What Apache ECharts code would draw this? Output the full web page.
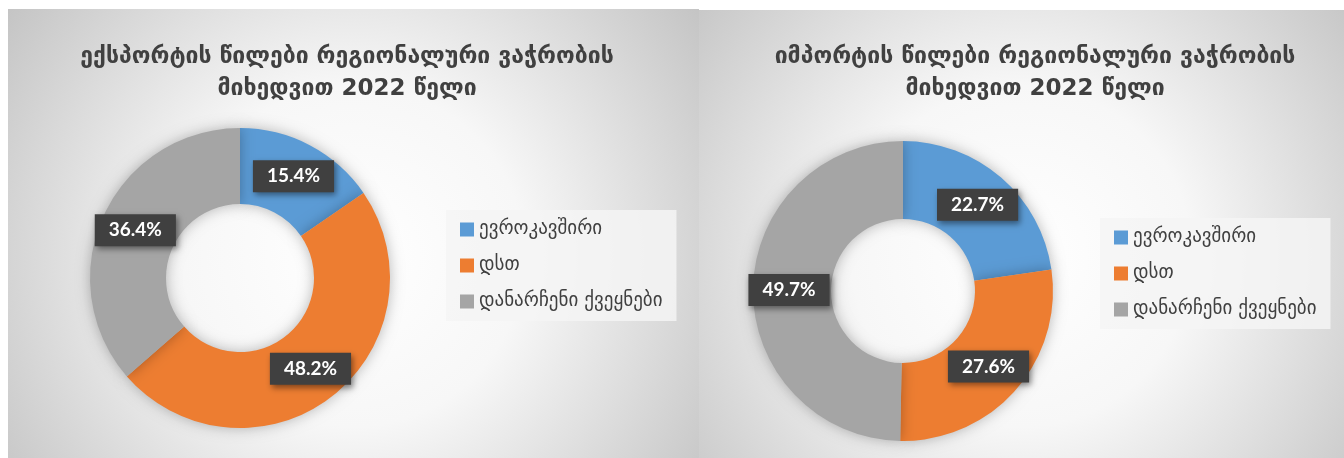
<!DOCTYPE html>
<html>
<head>
<meta charset="utf-8">
<script src="https://cdn.jsdelivr.net/npm/echarts@6/dist/echarts.min.js"></script>
<style>
html,body{margin:0;padding:0;background:#fff;}
#c{width:1344px;height:458px;}
</style>
</head>
<body>
<div id="c"></div>
<script>
const categories = ['ევროკავშირი', 'დსთ', 'დანარჩენი ქვეყნები'];
const exportShares = [15.4, 48.2, 36.4];
const importShares = [22.7, 27.6, 49.7];
const exportTitle = 'ექსპორტის წილები რეგიონალური ვაჭრობის\nმიხედვით 2022 წელი';
const importTitle = 'იმპორტის წილები რეგიონალური ვაჭრობის\nმიხედვით 2022 წელი';
const colors = ['#5B9BD5', '#ED7D31', '#A5A5A5'];

const GEO_FONT = '"DejaVu Sans", sans-serif';

function panelBg(x, y, w, h) {
  return {
    type: 'rect', silent: true, z: -10,
    shape: { x: x, y: y, width: w, height: h },
    style: {
      fill: {
        type: 'radial', x: 0.5, y: 0.55, r: 0.95,
        colorStops: [
          { offset: 0, color: '#ffffff' },
          { offset: 0.4, color: '#f7f7f7' },
          { offset: 1, color: '#c4c4c4' }
        ]
      }
    }
  };
}

function pieSeries(name, values, center, radius) {
  return {
    name: name,
    type: 'pie',
    center: center,
    radius: radius,
    startAngle: 90,
    clockwise: true,
    avoidLabelOverlap: false,
    itemStyle: { shadowBlur: 14, shadowColor: 'rgba(0,0,0,0.28)' },
    label: {
      show: true,
      position: 'inside',
      formatter: function (p) { return p.value.toFixed(1) + '%'; },
      color: '#ffffff',
      fontFamily: 'Lato, "Open Sans", sans-serif',
      fontWeight: 'bold',
      fontSize: 19,
      backgroundColor: '#404040',
      padding: [7, 14, 6, 14],
      shadowBlur: 6,
      shadowOffsetX: 2,
      shadowOffsetY: 3,
      shadowColor: 'rgba(0,0,0,0.45)'
    },
    labelLine: { show: false },
    emphasis: { scale: false },
    data: categories.map(function (c, i) {
      return { name: c, value: values[i], itemStyle: { color: colors[i] } };
    })
  };
}

function legend(left, top) {
  return {
    orient: 'vertical',
    left: left,
    top: top,
    data: categories,
    icon: 'rect',
    itemWidth: 14,
    itemHeight: 14,
    itemGap: 17,
    backgroundColor: 'rgba(244,244,244,0.85)',
    padding: [10, 14, 10, 14],
    textStyle: { fontFamily: GEO_FONT, fontSize: 19, color: '#404040' }
  };
}

const titleStyle = { fontFamily: GEO_FONT, fontSize: 23, fontWeight: 'bold', color: '#404040', lineHeight: 32, align: 'center' };

const chart = echarts.init(document.getElementById('c'));
chart.setOption({
  backgroundColor: '#ffffff',
  animation: false,
  color: colors,
  graphic: [
    panelBg(8, 9, 691, 449),
    panelBg(699, 10, 645, 448)
  ],
  title: [
    { text: exportTitle, left: 342, top: 36, textAlign: 'center', textStyle: titleStyle },
    { text: importTitle, left: 1030, top: 36, textAlign: 'center', textStyle: titleStyle }
  ],
  legend: [legend(446, 210), legend(1100, 218)],
  series: [
    pieSeries('export', exportShares, [240, 278], [74, 150]),
    pieSeries('import', importShares, [903, 291], [72, 150])
  ]
});
</script>
</body>
</html>
